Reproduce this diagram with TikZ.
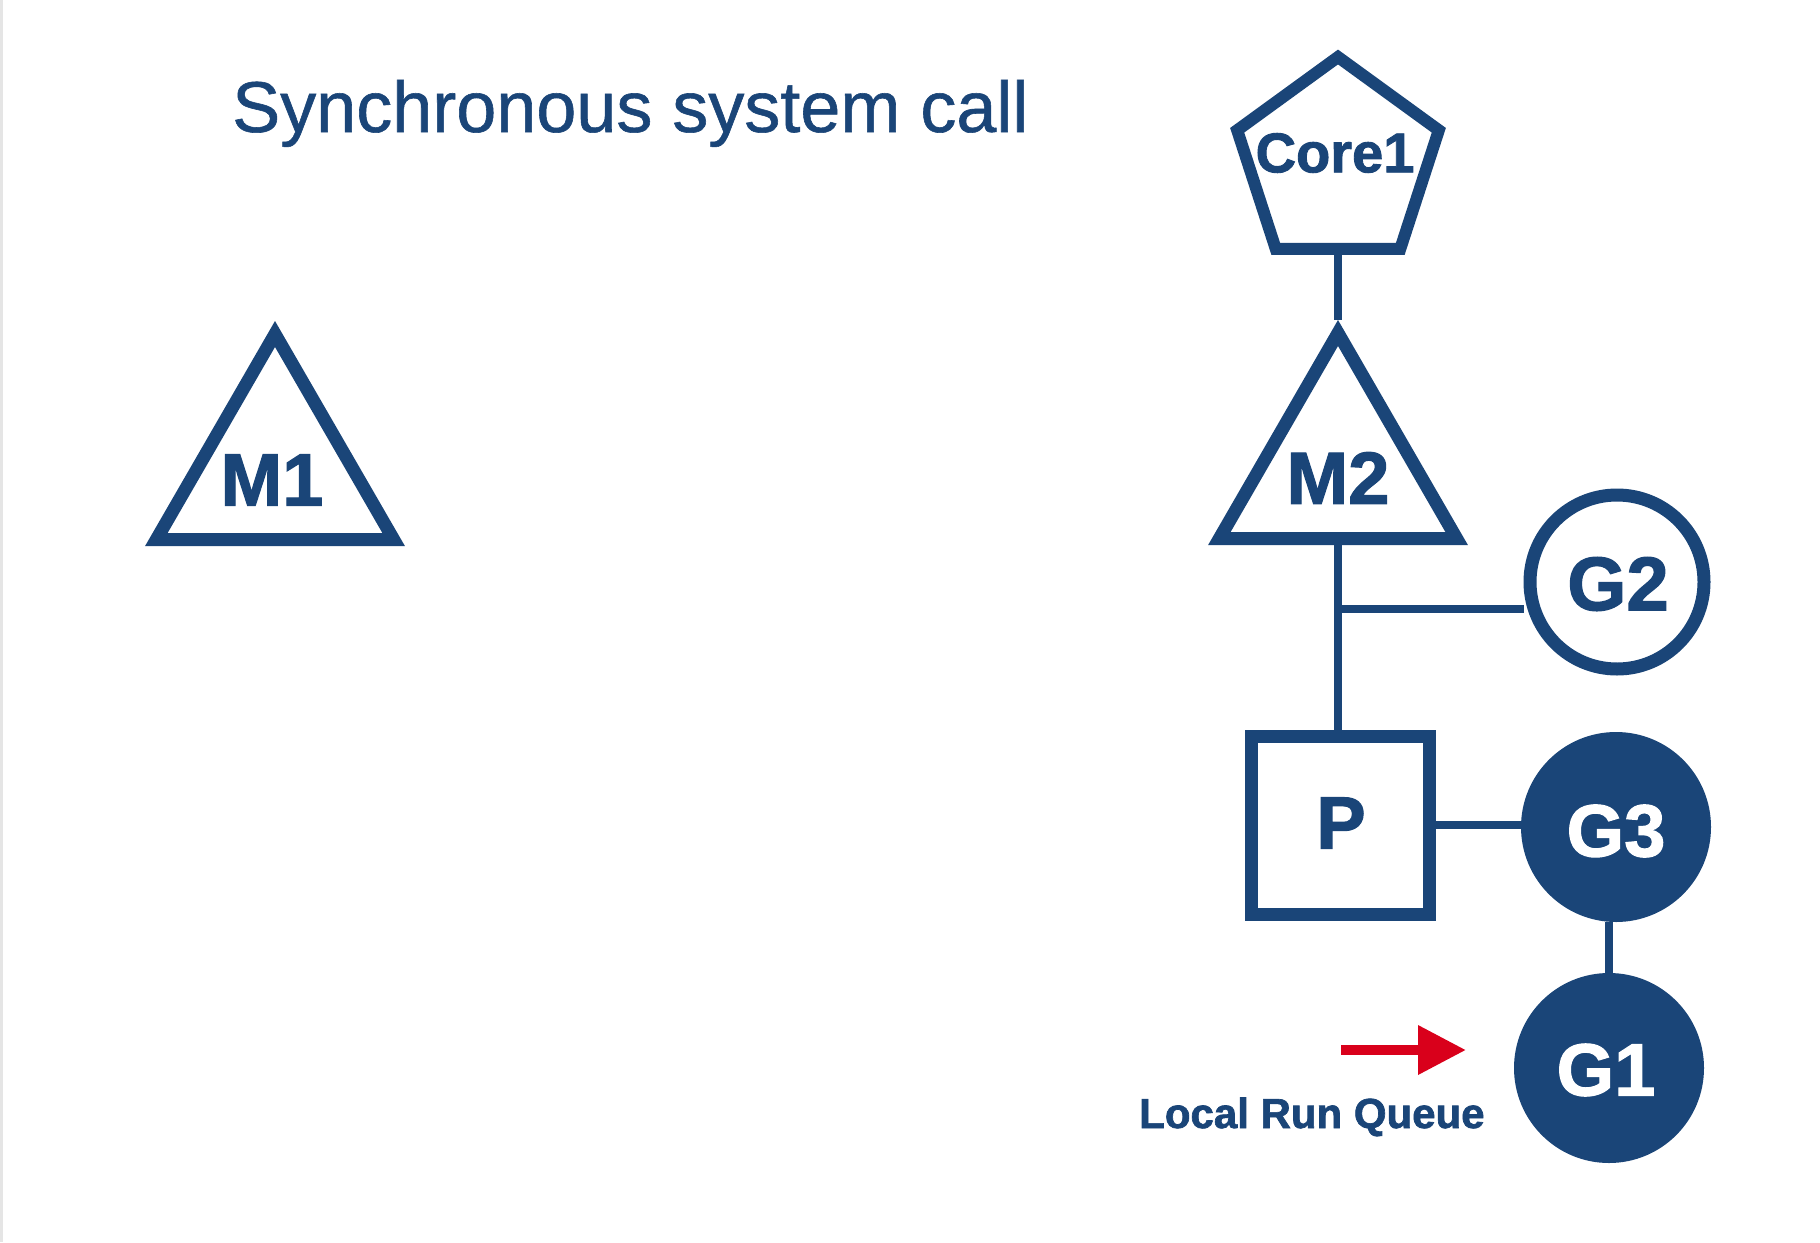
\documentclass[tikz,border=0pt]{standalone}
\usepackage{fontspec}
\setmainfont{Liberation Sans}
\newfontfamily\heavyfont{Liberation Sans Bold}[FakeBold=1.6]
\newfontfamily\titlefont{Liberation Sans}[FakeBold=0.8]
\usetikzlibrary{shapes.geometric,arrows.meta}
\definecolor{navy}{HTML}{1A4578}
\definecolor{qred}{HTML}{D9001B}
\begin{document}
\begin{tikzpicture}[x=1pt,y=-1pt,
  shp/.style={draw=navy, line width=13pt, inner sep=0pt, fill=white},
  tri/.style={shp, regular polygon, regular polygon sides=3, minimum size=274pt},
  pent/.style={shp, line width=12pt, regular polygon, regular polygon sides=5, minimum size=212pt},
  gout/.style={shp, circle, minimum size=174pt},
  gin/.style={circle, fill=navy, draw=none, inner sep=0pt, minimum size=190pt},
  pbox/.style={shp, rectangle, minimum size=178pt},
  lbl/.style={text=navy, font=\heavyfont\fontsize{74}{80}\selectfont, inner sep=0pt},
  wlbl/.style={lbl, text=white},
  conn/.style={draw=navy, line width=8pt},
  ttl/.style={text=navy, font=\titlefont\fontsize{72}{80}\selectfont, inner sep=0pt, anchor=base west},
  qlbl/.style={text=navy, font=\heavyfont\fontsize{42}{48}\selectfont, inner sep=0pt, anchor=base west},
  qarrow/.style={draw=qred, line width=10pt, -{Triangle[length=48pt,width=47pt]}},
]
\fill[white] (0,0) rectangle (1820,1242);
\useasboundingbox (0,0) rectangle (1820,1242);
\draw[gray!20, line width=3pt] (1.5,0) -- (1.5,1242);

% title
\node[ttl] (title) at (232,132) {Synchronous system call};

% M1
\node[tri] (M1) at (275,471) {};
\node[lbl] (M1t) at (272,480) {M1};

% Core1
\node[pent] (C1) at (1338,163) {};
\node[lbl, font=\heavyfont\fontsize{56}{60}\selectfont] (C1t) at (1335,153) {Core1};

% M2
\node[tri] (M2) at (1338,470) {};
\node[lbl] (M2t) at (1338,478) {M2};

% G2
\node[gout] (G2) at (1617,582) {};
\node[lbl, font=\heavyfont\fontsize{76}{80}\selectfont] (G2t) at (1618,584) {G2};

% P
\node[pbox] (P) at (1340,825) {};
\node[lbl] (Pt) at (1341,823) {P};

% G3, G1
\node[gin] (G3) at (1616,827) {};
\node[wlbl] (G3t) at (1616,831) {G3};
\node[gin] (G1) at (1609,1068) {};
\node[wlbl] (G1t) at (1606,1070) {G1};

% connectors
\coordinate (j) at (1338,609);
\draw[conn] (C1.south) -- (M2.north);
\draw[conn] (M2.south) -- (M2.south |- P.north);
\draw[conn] (j) -- (j -| G2.west);
\draw[conn] (P.east) -- (P.east -| G3.west);
\draw[conn] (G1.north) -- (G1.north |- G3.south);

% local run queue
\coordinate (qs) at (1341,1050);
\coordinate (qt) at (1466,1050);
\draw[qarrow] (qs) -- (qt);
\node[qlbl] (lrq) at (1139,1128) {Local Run Queue};
\end{tikzpicture}
\end{document}
